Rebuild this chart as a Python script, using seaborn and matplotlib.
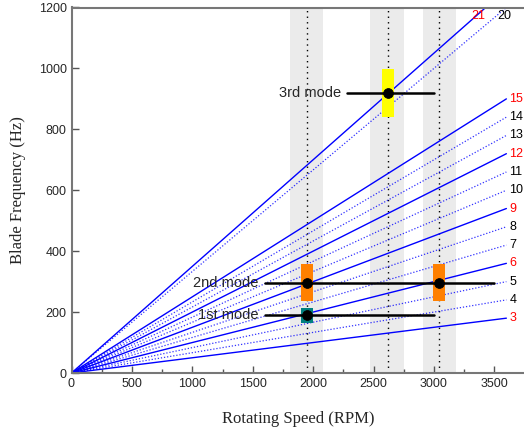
import pandas as pd
import matplotlib
matplotlib.use("Agg")
import matplotlib.pyplot as plt
import seaborn as sns

# 阶次线 (engine orders)
orders = [3, 4, 5, 6, 7, 8, 9, 10, 11, 12, 13, 14, 15, 20, 21]
rpm_end = 3600

# 共振区
band_centers = [1950, 2620, 3045]
band_lo = [1812, 2475, 2910]
band_hi = [2082, 2755, 3180]

# 模态
mode_names = ["1st mode", "2nd mode", "3rd mode"]
mode_freq = [190, 297, 920]
mode_half = [25, 60, 78]
mode_span_lo = [1600, 1600, 2280]
mode_span_hi = [3000, 3500, 3000]
mode_pts_rpm = [[1950], [1950, 3045], [2620]]
mode_colors = ["#008080", "#ff8000", "#ffff00"]

sns.set_style("ticks")
plt.rcParams["font.family"] = ["Liberation Sans", "DejaVu Sans"]

fig = plt.figure(figsize=(5.24, 4.28), dpi=100)
ax = fig.add_axes([71.5 / 524, 55 / 428, 453 / 524, 365.5 / 428])

# 灰色区域和点线
for c, lo, hi in zip(band_centers, band_lo, band_hi):
    ax.axvspan(lo, hi, color="#ebebeb", lw=0, zorder=0)
    ax.axvline(c, color="black", ls=(0, (1, 3)), lw=1, zorder=1)

# 阶次线
rows = []
for k in orders:
    for r in [0, rpm_end]:
        rows.append({"order": k, "rpm": r, "freq": k * r / 60})
df = pd.DataFrame(rows)
for k in orders:
    sub = df[df["order"] == k]
    solid = k % 3 == 0
    sns.lineplot(x="rpm", y="freq", data=sub, ax=ax, color="blue",
                 lw=1 if solid else 0.9,
                 ls="-" if solid else (0, (1, 1.5)),
                 alpha=1 if solid else 0.8, zorder=2)

# 阶次标签
for k in orders:
    col = "red" if k % 3 == 0 else "black"
    if k == 21:
        ax.text(3310, 1172, str(k), color=col, fontsize=9, va="center", ha="left")
    elif k == 20:
        ax.text(3525, 1172, str(k), color=col, fontsize=9, va="center", ha="left")
    else:
        ax.text(3625, k * rpm_end / 60, str(k), color=col, fontsize=9,
                va="center", ha="left")

# 模态方框、横线、点
for i, name in enumerate(mode_names):
    for r in mode_pts_rpm[i]:
        ax.bar(r, 2 * mode_half[i], bottom=mode_freq[i] - mode_half[i],
               width=100, color=mode_colors[i], lw=0, zorder=3)
    ax.plot([mode_span_lo[i], mode_span_hi[i]], [mode_freq[i]] * 2,
            color="black", lw=1.8, zorder=4)
    sns.scatterplot(x=mode_pts_rpm[i], y=[mode_freq[i]] * len(mode_pts_rpm[i]),
                    ax=ax, color="black", s=50, edgecolor="black", zorder=5)
    ax.text(mode_span_lo[i] - 50, mode_freq[i], name, fontsize=10.5,
            ha="right", va="center", zorder=5)

ax.set_xlim(0, 3750)
ax.set_ylim(0, 1200)
ax.set_xticks(range(0, 4000, 500))
ax.set_xticks(range(250, 3750, 500), minor=True)
ax.set_yticks(range(0, 1400, 200))
ax.tick_params(axis="both", which="major", direction="in", length=5,
               width=1, color="#555555", labelsize=9)
ax.tick_params(axis="x", which="minor", direction="in", length=3,
               width=1, color="#555555")
for s in ["left", "bottom", "top"]:
    ax.spines[s].set_color("#777777")
    ax.spines[s].set_linewidth(1.5)
ax.spines["right"].set_visible(False)

ax.set_xlabel("Rotating Speed (RPM)", fontsize=12, family="Liberation Serif", labelpad=15)
ax.set_ylabel("Blade Frequency (Hz)", fontsize=12, family="Liberation Serif", labelpad=9)

fig.savefig("out.png", dpi=100)
